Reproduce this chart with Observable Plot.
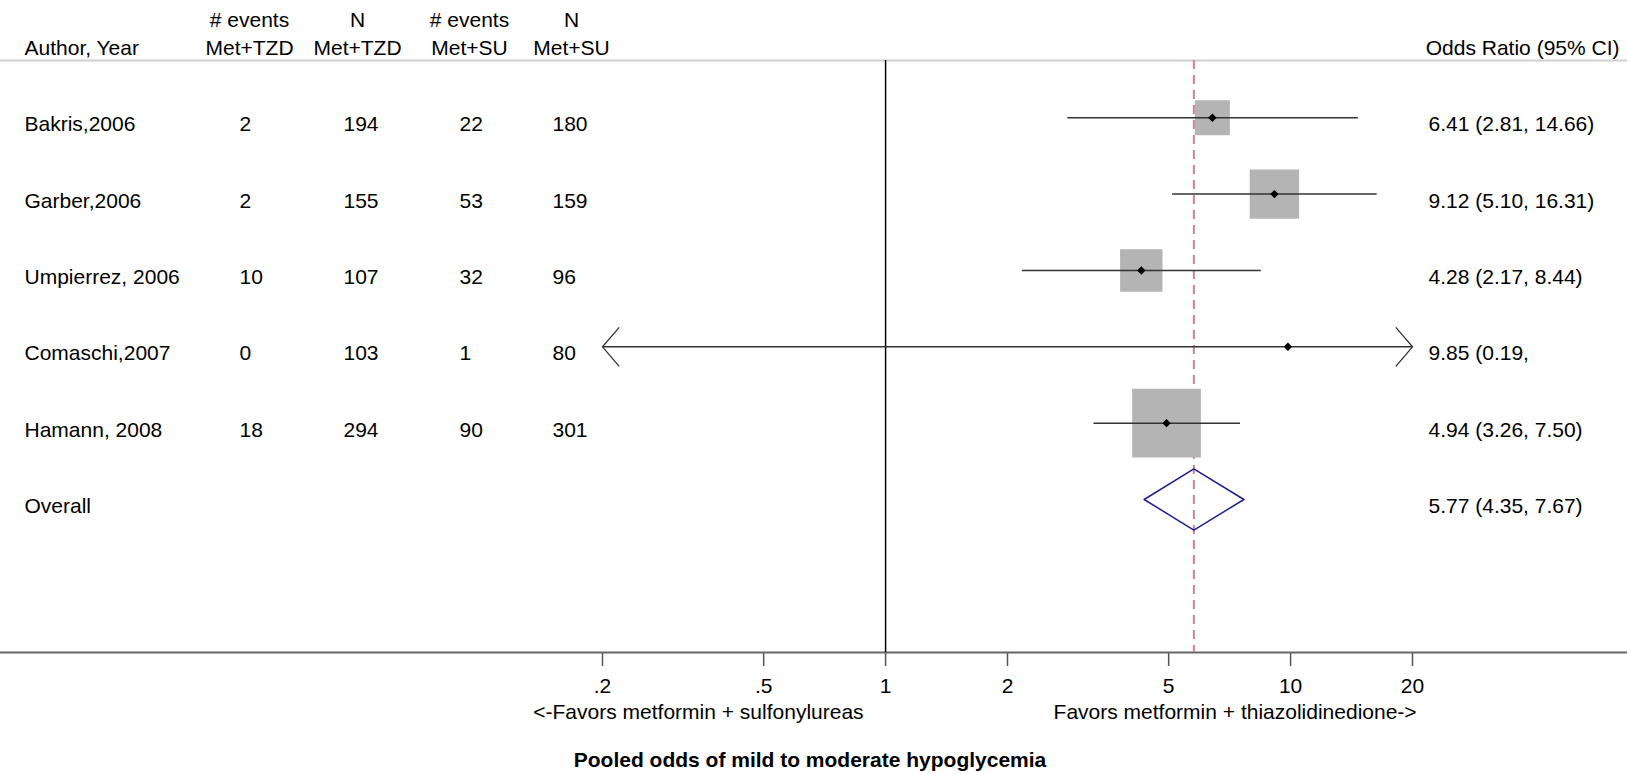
<!DOCTYPE html>
<html>
<head>
<meta charset="utf-8">
<script src="https://cdn.jsdelivr.net/npm/d3@7"></script>
<script src="https://cdn.jsdelivr.net/npm/@observablehq/plot@0.6"></script>
<style>
  html, body { margin: 0; padding: 0; background: #fff; }
  #chart svg { display: block; }
  [aria-label="x-axis tick"] path, [aria-label="x-axis"] .tick line { stroke: #555; stroke-width: 1.5px; }
</style>
</head>
<body>
<div id="chart"></div>
<script>
// ---------------- data ----------------
const authors   = ["Bakris,2006", "Garber,2006", "Umpierrez, 2006", "Comaschi,2007", "Hamann, 2008"];
const eventsTZD = [2, 2, 10, 0, 18];
const nTZD      = [194, 155, 107, 103, 294];
const eventsSU  = [22, 53, 32, 1, 90];
const nSU       = [180, 159, 96, 80, 301];
const orEst     = [6.41, 9.12, 4.28, 9.85, 4.94];
const ciLow     = [2.81, 5.10, 2.17, 0.19, 3.26];
const ciHigh    = [14.66, 16.31, 8.44, 510, 7.50];   // Comaschi upper bound is off-scale (estimated)
const orLabels  = ["6.41 (2.81, 14.66)", "9.12 (5.10, 16.31)", "4.28 (2.17, 8.44)", "9.85 (0.19,", "4.94 (3.26, 7.50)"];
const weights   = [12.0, 23.8, 17.6, 0, 46.2];       // box weights (%)

const overallLabel = ["Overall"];
const overallEst   = [5.77];
const overallLow   = [4.35];
const overallHigh  = [7.67];
const overallText  = ["5.77 (4.35, 7.67)"];

const colHeaders  = ["# events\nMet+TZD", "N\nMet+TZD", "# events\nMet+SU", "N\nMet+SU"];
const authorHeader = ["Author, Year"];
const orHeader     = ["Odds Ratio (95% CI)"];

const xTicks      = [0.2, 0.5, 1, 2, 5, 10, 20];
const xTickLabels = [".2", ".5", "1", "2", "5", "10", "20"];
const favorsLeft  = ["<-Favors metformin + sulfonylureas"];
const favorsRight = ["Favors metformin + thiazolidinedione->"];
const title       = ["Pooled odds of mild to moderate hypoglycemia"];

// ---------------- build tables ----------------
const xMin = xTicks[0], xMax = xTicks[xTicks.length - 1];
const rows = authors.map((a, i) => ({
  row: i + 1,
  author: a,
  c1: String(eventsTZD[i]), c2: String(nTZD[i]), c3: String(eventsSU[i]), c4: String(nSU[i]),
  est: orEst[i], lo: ciLow[i], hi: ciHigh[i],
  loC: Math.max(ciLow[i], xMin), hiC: Math.min(ciHigh[i], xMax),
  label: orLabels[i], w: weights[i]
}));
const overallRow = rows.length + 1;
const overall = [{row: overallRow, author: overallLabel[0], est: overallEst[0], lo: overallLow[0], hi: overallHigh[0], label: overallText[0]}];
const allRows = rows.concat(overall);

const headerRow = 0;
const sepRow = 0.25;
const yDomain = [-0.536, 8.004];
const diamondHalf = 0.4;
const diamond = [
  {x: overall[0].lo,  y: overallRow},
  {x: overall[0].est, y: overallRow - diamondHalf},
  {x: overall[0].hi,  y: overallRow},
  {x: overall[0].est, y: overallRow + diamondHalf},
  {x: overall[0].lo,  y: overallRow}
];

// layout (pixel offsets for the table columns)
const colStart = [239, 343, 459, 552];
const colCenter = [249, 357, 469, 571];
const fs = 21;

const chevronLeft  = {draw(ctx) { ctx.moveTo(16.7, -19.5); ctx.lineTo(0, 0); ctx.lineTo(16.7, 19.5); }};
const chevronRight = {draw(ctx) { ctx.moveTo(-16.7, -19.5); ctx.lineTo(0, 0); ctx.lineTo(-16.7, 19.5); }};

const cols = ["c1", "c2", "c3", "c4"];

const marks = [
  // header separator
  Plot.ruleY([sepRow], {stroke: "#cfcfcf", strokeWidth: 2}),
  // axis line
  Plot.ruleY([yDomain[1]], {stroke: "#666", strokeWidth: 2}),
  // null line
  Plot.ruleX([1], {y1: sepRow, y2: yDomain[1], stroke: "#000", strokeWidth: 1.5}),
  // overall dashed line
  Plot.ruleX(overall, {x: "est", y1: sepRow, y2: yDomain[1], stroke: "#c9848e", strokeWidth: 2, strokeDasharray: "9,6"}),
  // boxes
  Plot.dot(rows.filter(d => d.w > 0), {x: "est", y: "row", r: "w", symbol: "square", fill: "#b4b4b4", stroke: null}),
  // CIs
  Plot.link(rows, {x1: "loC", x2: "hiC", y1: "row", y2: "row", stroke: "#333", strokeWidth: 1.5}),
  Plot.dot(rows.filter(d => d.lo < xMin), {x: "loC", y: "row", symbol: chevronLeft, fill: "none", stroke: "#333", strokeWidth: 1.3}),
  Plot.dot(rows.filter(d => d.hi > xMax), {x: "hiC", y: "row", symbol: chevronRight, fill: "none", stroke: "#333", strokeWidth: 1.3}),
  // point estimates
  Plot.dot(rows, {x: "est", y: "row", symbol: "diamond2", r: 3.8, fill: "#000", stroke: null}),
  // overall diamond
  Plot.line(diamond, {x: "x", y: "y", stroke: "#1f1f8c", strokeWidth: 1.5}),
  // table text
  Plot.text(allRows, {y: "row", text: "author", frameAnchor: "left", dx: 24, textAnchor: "start", lineAnchor: "bottom", dy: 13.4}),
  ...cols.map((c, j) => Plot.text(rows, {y: "row", text: c, frameAnchor: "left", dx: colStart[j], textAnchor: "start", lineAnchor: "bottom", dy: 13.4})),
  Plot.text(allRows, {y: "row", text: "label", frameAnchor: "left", dx: 1428, textAnchor: "start", lineAnchor: "bottom", dy: 13.4}),
  // headers
  Plot.text(authorHeader, {y: () => headerRow, text: d => d, frameAnchor: "left", dx: 24, textAnchor: "start", lineAnchor: "bottom", dy: 14}),
  ...colHeaders.map((h, j) => Plot.text([h], {y: () => headerRow, text: d => d, frameAnchor: "left", dx: colCenter[j], textAnchor: "middle", lineAnchor: "bottom", lineHeight: 1.35, dy: 14})),
  Plot.text(orHeader, {y: () => headerRow, text: d => d, frameAnchor: "right", dx: -8, textAnchor: "end", lineAnchor: "bottom", dy: 14}),
  // favors labels
  Plot.text(favorsLeft, {x: () => 1, text: d => d, frameAnchor: "bottom", dy: 66, dx: -22, textAnchor: "end"}),
  Plot.text(favorsRight, {x: () => 1, text: d => d, frameAnchor: "bottom", dy: 66, dx: 168, textAnchor: "start"}),
  // title
  Plot.text(title, {text: d => d, frameAnchor: "bottom", dy: 114, dx: -4, fontWeight: "bold", fontSize: 21})
];

const chart = Plot.plot({
  width: 1627,
  height: 774,
  marginTop: 0,
  marginBottom: 122,
  marginLeft: 0,
  marginRight: 0,
  style: {fontFamily: "'Liberation Sans', Arial, Helvetica, sans-serif", fontSize: fs + "px", color: "#000", background: "#fff", overflow: "visible"},
  x: {type: "log", domain: [xMin, xMax], range: [602, 1412], ticks: xTicks, tickFormat: d => xTickLabels[xTicks.indexOf(d)], tickSize: 14, tickPadding: 12, label: null, line: false},
  y: {type: "linear", domain: yDomain, range: [0, 652], axis: null},
  r: {type: "sqrt", domain: [0, d3.max(weights)], range: [0, 38.8]},
  marks
});
document.getElementById("chart").appendChild(chart);
</script>
</body>
</html>
